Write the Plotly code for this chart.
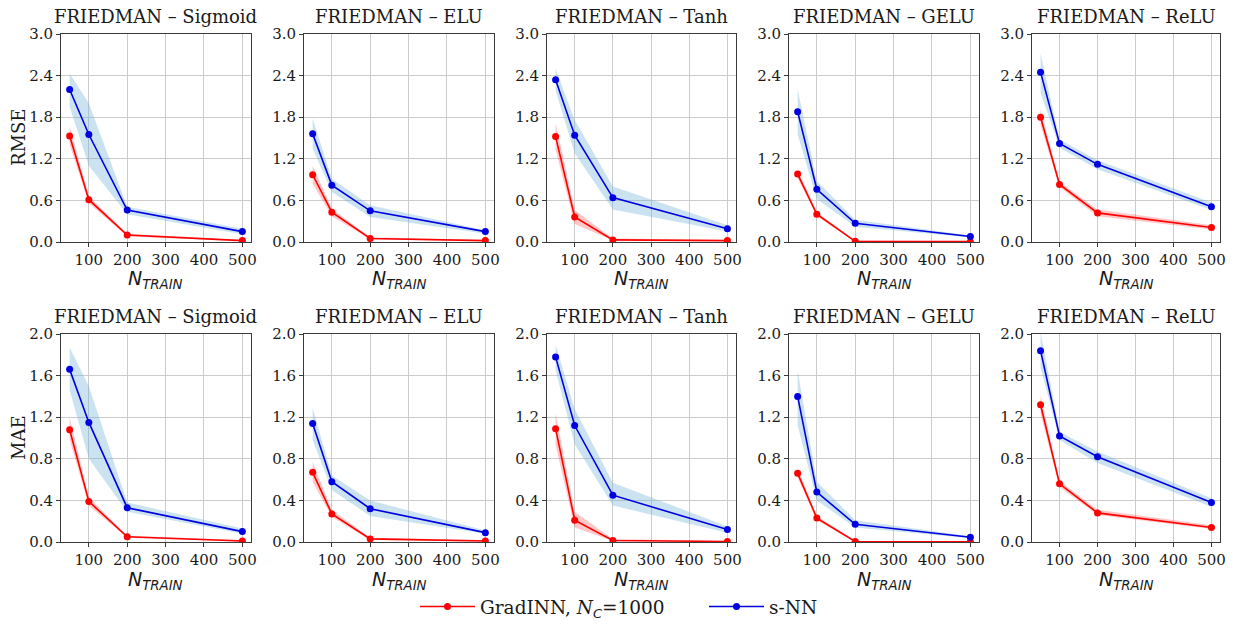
import plotly.graph_objects as go

# Training-set sizes on the x axis
N_TRAIN = [50, 100, 200, 500]
ACTIVATIONS = ["Sigmoid", "ELU", "Tanh", "GELU", "ReLU"]
X_TICKS = [100, 200, 300, 400, 500]

# RMSE – GradINN (mean, lower, upper), one row per activation
RMSE_GRAD_MEAN = [[1.53, 0.61, 0.10, 0.02], [0.97, 0.43, 0.05, 0.02], [1.52, 0.36, 0.03, 0.02],
                  [0.98, 0.40, 0.01, 0.005], [1.80, 0.83, 0.42, 0.21]]
RMSE_GRAD_LO = [[1.40, 0.56, 0.08, 0.01], [0.84, 0.37, 0.04, 0.01], [1.33, 0.26, 0.02, 0.01],
                [0.92, 0.37, 0.005, 0.0], [1.68, 0.79, 0.37, 0.18]]
RMSE_GRAD_HI = [[1.67, 0.66, 0.12, 0.03], [1.10, 0.48, 0.07, 0.03], [1.72, 0.46, 0.05, 0.03],
                [1.05, 0.43, 0.02, 0.01], [1.92, 0.87, 0.47, 0.24]]

# RMSE – s-NN
RMSE_SNN_MEAN = [[2.20, 1.55, 0.46, 0.15], [1.56, 0.82, 0.45, 0.15], [2.34, 1.54, 0.64, 0.19],
                 [1.88, 0.76, 0.27, 0.08], [2.45, 1.42, 1.12, 0.51]]
RMSE_SNN_LO = [[1.95, 1.10, 0.40, 0.11], [1.35, 0.72, 0.36, 0.12], [2.18, 1.28, 0.47, 0.15],
               [1.55, 0.62, 0.22, 0.065], [2.15, 1.36, 1.05, 0.46]]
RMSE_SNN_HI = [[2.43, 2.00, 0.51, 0.19], [1.78, 0.91, 0.53, 0.17], [2.50, 1.76, 0.80, 0.24],
               [2.20, 0.88, 0.32, 0.095], [2.72, 1.48, 1.18, 0.57]]

# MAE – GradINN
MAE_GRAD_MEAN = [[1.08, 0.39, 0.05, 0.01], [0.67, 0.27, 0.03, 0.01], [1.09, 0.21, 0.015, 0.005],
                 [0.66, 0.23, 0.005, 0.002], [1.32, 0.56, 0.28, 0.14]]
MAE_GRAD_LO = [[0.98, 0.35, 0.04, 0.005], [0.58, 0.24, 0.02, 0.005], [0.93, 0.14, 0.01, 0.0],
               [0.62, 0.21, 0.0, 0.0], [1.23, 0.53, 0.26, 0.125]]
MAE_GRAD_HI = [[1.20, 0.43, 0.06, 0.02], [0.77, 0.31, 0.04, 0.02], [1.24, 0.29, 0.03, 0.01],
               [0.71, 0.25, 0.01, 0.005], [1.41, 0.59, 0.31, 0.16]]

# MAE – s-NN
MAE_SNN_MEAN = [[1.66, 1.15, 0.33, 0.10], [1.14, 0.58, 0.32, 0.09], [1.78, 1.12, 0.45, 0.12],
                [1.40, 0.48, 0.17, 0.045], [1.84, 1.02, 0.82, 0.38]]
MAE_SNN_LO = [[1.46, 0.80, 0.29, 0.08], [0.98, 0.50, 0.25, 0.08], [1.65, 0.94, 0.35, 0.09],
              [1.12, 0.40, 0.14, 0.035], [1.68, 0.98, 0.76, 0.34]]
MAE_SNN_HI = [[1.87, 1.50, 0.38, 0.13], [1.29, 0.64, 0.40, 0.11], [1.90, 1.28, 0.57, 0.15],
              [1.65, 0.58, 0.21, 0.055], [2.02, 1.06, 0.87, 0.42]]

ROWS = [
    dict(metric="RMSE", ymax=3.0, dtick=0.6,
         grad=(RMSE_GRAD_MEAN, RMSE_GRAD_LO, RMSE_GRAD_HI),
         snn=(RMSE_SNN_MEAN, RMSE_SNN_LO, RMSE_SNN_HI)),
    dict(metric="MAE", ymax=2.0, dtick=0.4,
         grad=(MAE_GRAD_MEAN, MAE_GRAD_LO, MAE_GRAD_HI),
         snn=(MAE_SNN_MEAN, MAE_SNN_LO, MAE_SNN_HI)),
]

W, H = 1234, 625
COL_X = [(61, 251), (304, 494), (547, 736), (789, 979), (1032, 1220)]
ROW_Y = [(34, 242), (334, 542)]

SERIF = "DejaVu Serif"
SANS = "DejaVu Sans"
TXT = "#1a1a1a"
RED = "#ff0000"
BLUE = "#0000e0"
RED_FILL = "rgba(255,0,0,0.22)"
BLUE_FILL = "rgba(107,174,214,0.35)"

fig = go.Figure()
annotations = []
layout_axes = {}

idx = 0
for r, row in enumerate(ROWS):
    y0p, y1p = ROW_Y[r]
    for c, act in enumerate(ACTIVATIONS):
        idx += 1
        xa = "x" if idx == 1 else f"x{idx}"
        ya = "y" if idx == 1 else f"y{idx}"
        x0p, x1p = COL_X[c]

        series = [
            ("GradINN, <i>N</i><sub><span style=\"font-family:DejaVu Sans\"><i>C</i></span></sub>=1000",
             row["grad"], RED, RED_FILL, "grad"),
            ("s-NN", row["snn"], BLUE, BLUE_FILL, "snn"),
        ]
        # shaded spread bands
        for name, (mean, lo, hi), col, fill, grp in series:
            fig.add_trace(go.Scatter(x=N_TRAIN, y=hi[c], mode="lines", line=dict(width=0, color=fill),
                                     xaxis=xa, yaxis=ya, showlegend=False, hoverinfo="skip"))
            fig.add_trace(go.Scatter(x=N_TRAIN, y=lo[c], mode="lines", line=dict(width=0, color=fill),
                                     fill="tonexty", fillcolor=fill,
                                     xaxis=xa, yaxis=ya, showlegend=False, hoverinfo="skip"))
        # mean curves
        for name, (mean, lo, hi), col, fill, grp in series:
            fig.add_trace(go.Scatter(x=N_TRAIN, y=mean[c], mode="lines+markers", name=name,
                                     line=dict(color=col, width=1.6),
                                     marker=dict(color=col, size=7),
                                     legendgroup=grp, showlegend=(idx == 1),
                                     xaxis=xa, yaxis=ya))

        axis_common = dict(showline=True, mirror=True, linecolor="#3a3a3a", linewidth=1,
                           showgrid=True, gridcolor="#cccccc", gridwidth=1,
                           ticks="outside", ticklen=4, tickcolor="#3a3a3a",
                           tickfont=dict(family=SERIF, size=15, color=TXT), zeroline=False)
        layout_axes["xaxis" if idx == 1 else f"xaxis{idx}"] = dict(
            axis_common, domain=[x0p / W, x1p / W], anchor=ya, range=[27.5, 522.5],
            tickmode="array", tickvals=X_TICKS)
        layout_axes["yaxis" if idx == 1 else f"yaxis{idx}"] = dict(
            axis_common, domain=[1 - y1p / H, 1 - y0p / H], anchor=xa, range=[0, row["ymax"]],
            tick0=0, dtick=row["dtick"], tickformat=".1f")

        # panel title
        annotations.append(dict(text=f"FRIEDMAN – {act}", xref="paper", yref="paper",
                                x=(x0p + x1p) / 2 / W, y=1 - y0p / H, xanchor="center",
                                yanchor="bottom", yshift=5, showarrow=False,
                                font=dict(family=SERIF, size=18, color=TXT)))
        # x-axis label
        annotations.append(dict(text="<i>N</i><sub><i>TRAIN</i></sub>", xref="paper", yref="paper",
                                x=(x0p + x1p) / 2 / W, y=1 - (y1p + 38) / H, xanchor="center",
                                yanchor="middle", showarrow=False,
                                font=dict(family=SANS, size=19, color=TXT)))

    # metric label on the left of each row
    annotations.append(dict(text=row["metric"], xref="paper", yref="paper",
                            x=18 / W, y=1 - (y0p + y1p) / 2 / H, xanchor="center", yanchor="middle",
                            textangle=-90, showarrow=False,
                            font=dict(family=SERIF, size=18, color=TXT)))

fig.update_layout(
    width=W, height=H, margin=dict(l=0, r=0, t=0, b=0, autoexpand=False),
    paper_bgcolor="white", plot_bgcolor="white",
    annotations=annotations,
    showlegend=True,
    legend=dict(orientation="h", x=415 / W, xanchor="left", y=1 - 607 / H, yanchor="middle",
                font=dict(family=SERIF, size=18.5, color=TXT), itemwidth=55,
                entrywidth=219, bgcolor="rgba(0,0,0,0)"),
    **layout_axes,
)

fig.write_html("out.html")
